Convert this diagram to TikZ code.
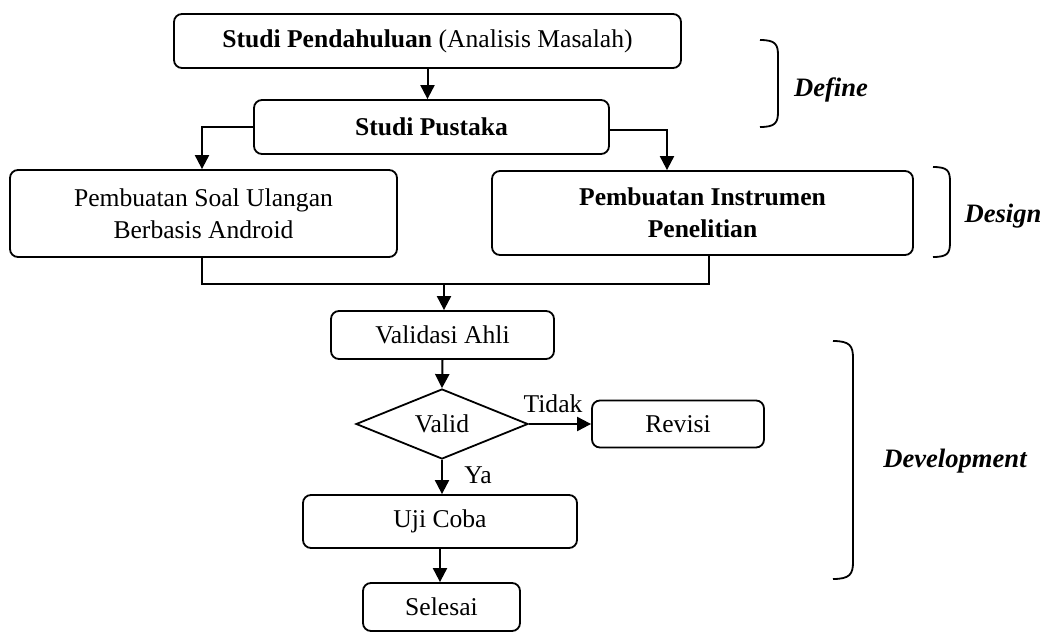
\documentclass[tikz,border=0pt]{standalone}
\usepackage{fontspec}
\setmainfont{Liberation Serif}
\usetikzlibrary{shapes.geometric,arrows.meta,calc}
\begin{document}
\begin{tikzpicture}[x=0.5pt,y=-0.5pt,
  font=\fontsize{12.8}{16}\selectfont,
  box/.style={draw, rounded corners=4pt, line width=0.9pt, align=center, inner sep=0pt},
  dec/.style={draw, diamond, line width=0.9pt, inner sep=0pt, aspect=2.46},
  arr/.style={line width=1pt, -{Triangle[length=7pt,width=7pt]}},
  ln/.style={line width=1pt},
  brace/.style={line width=0.9pt},
  phase/.style={font=\fontsize{13.3}{16}\selectfont\bfseries\itshape}]
\useasboundingbox (0,0) rectangle (1046,632);

\node[box, minimum width=253.5pt, minimum height=27pt] (A) at (427.5,41) {\textbf{Studi Pendahuluan} (Analisis Masalah)};
\node[box, minimum width=177.5pt, minimum height=27pt] (B) at (431.5,127) {\textbf{Studi Pustaka}};
\node[box, minimum width=193.5pt, minimum height=43.5pt] (C) at (203.5,213.5) {Pembuatan Soal Ulangan\\Berbasis Android};
\node[box, minimum width=210.5pt, minimum height=42pt, font=\fontsize{12.8}{16}\selectfont\bfseries] (D) at (702.5,213) {Pembuatan Instrumen\\Penelitian};
\node[box, minimum width=111.5pt, minimum height=24pt] (V) at (442.5,335) {Validasi Ahli};
\node[dec, minimum width=86pt, minimum height=35pt] (Q) at (442,424) {Valid};
\node[box, minimum width=86pt, minimum height=23.5pt] (R) at (678,424) {Revisi};
\node[box, minimum width=137pt, minimum height=26.5pt] (U) at (440,521.5) {Uji Coba};
\node[box, minimum width=78.5pt, minimum height=24pt] (S) at (441.5,607) {Selesai};

\draw[arr] (A.south) -- (A.south |- B.north);
\draw[arr] (B.west) -| ($(C.north)+(-1.5,0)$);
\draw[arr] ($(B.east)+(0,3)$) -| ($(D.north)+(-35.5,0)$);
\coordinate (m) at (444,284);
\draw[ln] ($(C.south)+(-1.5,0)$) |- (m) -| ($(D.south)+(6.5,0)$);
\draw[arr] (m) -- (m |- V.north);
\draw[arr] (V.south) -- (Q.north);
\draw[arr] (Q.east) -- (Q.east -| R.west);
\draw[arr] (Q.south) -- (Q.south |- U.north);
\draw[arr] (U.south) -- (U.south |- S.north);
\node (tidak) at (553,404) {Tidak};
\node (ya) at (478,475) {Ya};

\draw[brace] (760,40) .. controls (775,40) and (778,44) .. (778,55) -- (778,112) .. controls (778,123) and (775,127) .. (760,127);
\draw[brace] (933,167) .. controls (948,167) and (950,171) .. (950,182) -- (950,242) .. controls (950,253) and (948,257) .. (933,257);
\draw[brace] (833,341) .. controls (850,341) and (853,346) .. (853,358) -- (853,562) .. controls (853,574) and (850,579) .. (833,579);
\node[phase] (define) at (831,90) {Define};
\node[phase] (design) at (1003,216) {Design};
\node[phase] (devel) at (955,461) {Development};
\end{tikzpicture}
\end{document}
